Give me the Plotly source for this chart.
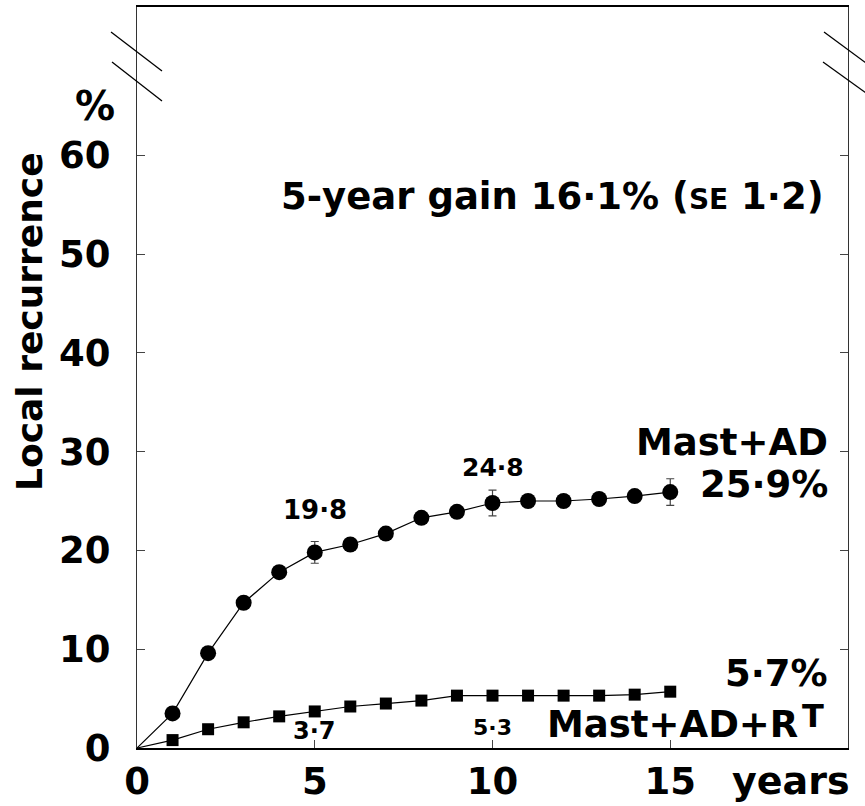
import plotly.graph_objects as go

# Cumulative local recurrence (%) by year of follow-up
years = list(range(1, 16))
mast_ad = [3.5, 9.6, 14.7, 17.8, 19.8, 20.6, 21.7, 23.3, 23.9, 24.8, 25.0, 25.0, 25.2, 25.5, 25.9]
mast_ad_rt = [0.8, 1.9, 2.6, 3.2, 3.7, 4.2, 4.5, 4.8, 5.3, 5.3, 5.3, 5.3, 5.3, 5.4, 5.7]

# Standard errors shown at 5, 10 and 15 years (Mast+AD)
se_years = [5, 10, 15]
se_mast_ad = [1.1, 1.3, 1.35]

x_ticks = [0, 5, 10, 15]
y_ticks = [0, 10, 20, 30, 40, 50, 60]

gain_value = 16.1
gain_se = 1.2

W, H = 865, 806
ML, MR, MT, MB = 137, 17, 7, 58
PW, PH = W - ML - MR, H - MT - MB

FONT = "DejaVu Sans"


def fmt(v):
    return f"{v:.1f}".replace(".", "·")


def px(x):
    return (x - ML) / PW


def py(y):
    return (H - MB - y) / PH


def bold(size):
    return dict(family=FONT, size=size, color="black", weight="bold")


fig = go.Figure()

# connecting lines start at the origin
fig.add_trace(go.Scatter(x=[0] + years, y=[0] + mast_ad, mode="lines",
                         line=dict(color="black", width=1.2), hoverinfo="skip"))
fig.add_trace(go.Scatter(x=[0] + years, y=[0] + mast_ad_rt, mode="lines",
                         line=dict(color="black", width=1.2), hoverinfo="skip"))

# error bars at selected years
se_points = [mast_ad[years.index(y)] for y in se_years]
fig.add_trace(go.Scatter(x=se_years, y=se_points, mode="markers",
                         marker=dict(size=1, color="rgba(0,0,0,0)"),
                         error_y=dict(type="data", array=se_mast_ad, visible=True,
                                      color="#444", thickness=1.2, width=4)))

fig.add_trace(go.Scatter(x=years, y=mast_ad, mode="markers", name="Mast+AD",
                         marker=dict(symbol="circle", size=16, color="black")))
fig.add_trace(go.Scatter(x=years, y=mast_ad_rt, mode="markers", name="Mast+AD+RT",
                         marker=dict(symbol="square", size=12, color="black")))

annotations = []


def text(t, x, y, size, xanchor="center", xref="paper", yref="paper", **kw):
    annotations.append(dict(text=t, x=x, y=y, xref=xref, yref=yref, showarrow=False,
                            xanchor=xanchor, yanchor="middle", font=bold(size), **kw))


# axis title and units
text("Local recurrence", px(29), py(322), 36, textangle=-90)
text("%", px(95), py(106), 40)
text("years", px(791), py(781), 38)

# summary
text(f"5-year gain {fmt(gain_value)}% (<span style='font-size:28px'>SE</span> {fmt(gain_se)})",
     px(826), py(197), 37, xanchor="right")

# end-of-curve labels
text("Mast+AD", px(830), py(442), 37, xanchor="right")
text(f"{fmt(mast_ad[-1])}%", px(830), py(484), 37, xanchor="right")
text(f"{fmt(mast_ad_rt[-1])}%", px(830), py(673), 37, xanchor="right")
text("Mast+AD+R", px(800), py(724), 37, xanchor="right")
text("T", px(800), py(716), 32, xanchor="left")

# point values at 5 and 10 years
i5, i10 = years.index(5), years.index(10)
text(fmt(mast_ad[i5]), 5, mast_ad[i5], 26, xref="x", yref="y", yshift=42)
text(fmt(mast_ad[i10]), 10, mast_ad[i10], 25, xref="x", yref="y", yshift=35)
text(fmt(mast_ad_rt[i5]), 5, mast_ad_rt[i5], 24, xref="x", yref="y", yshift=-20)
text(fmt(mast_ad_rt[i10]), 10, mast_ad_rt[i10], 22, xref="x", yref="y", yshift=-32)

# axis-break marks on both vertical edges
shapes = []
for (x0, y0, x1, y1) in [(111, 32, 162, 71), (112, 62, 162, 101),
                         (824, 32, 866, 63), (823, 62, 866, 93)]:
    shapes.append(dict(type="line", xref="paper", yref="paper",
                       x0=px(x0), y0=py(y0), x1=px(x1), y1=py(y1),
                       line=dict(color="black", width=1.3)))

fig.update_layout(
    width=W, height=H,
    margin=dict(l=ML, r=MR, t=MT, b=MB, pad=0, autoexpand=False),
    paper_bgcolor="white", plot_bgcolor="white",
    showlegend=False,
    annotations=annotations,
    shapes=shapes,
    font=bold(37),
)

fig.update_xaxes(range=[0, 20], tickvals=x_ticks, ticktext=[str(v) for v in x_ticks],
                 ticks="inside", ticklen=8, tickwidth=1, tickcolor="#444",
                 showline=True, linecolor="black", linewidth=2, mirror=True,
                 showgrid=False, zeroline=False, tickfont=bold(37),
                 ticklabelstandoff=0, automargin=False)
fig.update_yaxes(range=[0, 75], tickvals=y_ticks, ticktext=[str(v) for v in y_ticks],
                 ticks="inside", ticklen=8, tickwidth=1, tickcolor="#444",
                 showline=True, linecolor="#333", linewidth=1.3, mirror="ticks",
                 showgrid=False, zeroline=False, tickfont=bold(37),
                 ticklabelstandoff=18, automargin=False)

fig.write_html("out.html")
